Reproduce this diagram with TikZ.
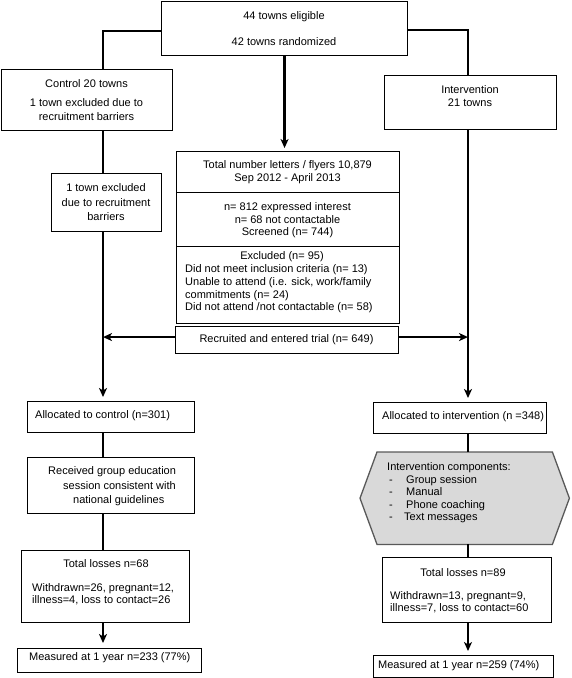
\documentclass[tikz,border=0pt]{standalone}
\usepackage{fontspec}
\setmainfont{Liberation Sans}
\usetikzlibrary{arrows.meta}
\begin{document}
\begin{tikzpicture}[x=1pt,y=-1pt,
  box/.style={draw=black, line width=1.1pt, inner sep=0pt, anchor=north west},
  area/.style={inner sep=0pt, anchor=north west},
  txt/.style={inner sep=0pt, font=\fontsize{11}{13}\selectfont, align=center},
  ltxt/.style={inner sep=0pt, font=\fontsize{11}{13}\selectfont, align=left, anchor=west},
  conn/.style={line width=2.4pt},
  arr/.style={conn, -{Stealth[length=9pt,width=8pt,inset=2.5pt]}},
  hexst/.style={draw=black!65, fill=black!15, line width=1.3pt, line join=miter}]
\useasboundingbox (0,0) rectangle (572,678);
% boxes
\node[box, minimum width=246pt, minimum height=54pt] (top) at (161,0.6) {};
\node[box, minimum width=171pt, minimum height=61pt] (ctrl) at (1,69) {};
\node[box, minimum width=172pt, minimum height=54pt] (int) at (384,75) {};
\node[box, minimum width=223pt, minimum height=41pt] (A) at (176,151) {};
\node[box, minimum width=223pt, minimum height=54pt] (B) at (176,192) {};
\node[box, minimum width=223pt, minimum height=77pt] (C) at (176,246) {};
\node[box, minimum width=223pt, minimum height=27pt] (D) at (175,326) {};
\node[box, minimum width=110pt, minimum height=58pt] (exc) at (51,173) {};
\node[box, minimum width=167pt, minimum height=31pt] (allocC) at (27,401) {};
\node[box, minimum width=167pt, minimum height=56pt] (rec) at (27,457) {};
\node[box, minimum width=168pt, minimum height=72pt] (tlC) at (21,550) {};
\node[box, minimum width=184pt, minimum height=24pt] (measC) at (17,648) {};
\node[box, minimum width=173pt, minimum height=31pt] (allocI) at (373,402) {};
\node[area, minimum width=175pt, minimum height=92pt] (hex) at (377,452) {};
\node[box, minimum width=169pt, minimum height=65pt] (tlI) at (382,557) {};
\node[box, minimum width=180pt, minimum height=22pt] (measI) at (373,655) {};
\draw[hexst] (hex.north west) -- (hex.north east) -- ([xshift=17pt]hex.east)
  -- (hex.south east) -- (hex.south west) -- ([xshift=-17pt]hex.west) -- cycle;
% texts
\node[txt] (t1) at (284,29) {44 towns eligible\\[13pt]42 towns randomized};
\node[txt, font=\fontsize{11}{14}\selectfont] (t2) at (86.5,100) {Control 20 towns\\[5pt]1 town excluded due to\\recruitment barriers};
\node[txt] (t3) at (470,96) {Intervention\\21 towns};
\node[txt] (t4) at (287.5,172) {Total number letters / flyers 10,879\\Sep 2012 - April 2013};
\node[txt, font=\fontsize{11}{12.5}\selectfont] (t5) at (287.5,220.5) {n= 812 expressed interest\\n= 68 not contactable\\Screened (n= 744)};
\node[txt] (t6) at (282,257) {Excluded (n= 95)};
\node[ltxt, font=\fontsize{11}{12.7}\selectfont] (t7) at (185,289) {Did not meet inclusion criteria (n= 13)\\Unable to attend (i.e. sick, work/family\\commitments (n= 24)\\Did not attend /not contactable (n= 58)};
\node[txt] (t8) at (286.5,340) {Recruited and entered trial (n= 649)};
\node[txt, font=\fontsize{11}{14.5}\selectfont] (t9) at (106,202.5) {1 town excluded\\due to recruitment\\barriers};
\node[ltxt] (t10) at (35,416) {Allocated to control (n=301)};
\node[ltxt, font=\fontsize{11}{14.5}\selectfont] (t11) at (48,486.5) {Received group education\\\hspace*{15pt}session consistent with\\\hspace*{25pt}national guidelines};
\node[txt] (t12) at (106,564) {Total losses n=68};
\node[ltxt, font=\fontsize{11}{12}\selectfont] (t13) at (32,594) {Withdrawn=26, pregnant=12,\\illness=4, loss to contact=26};
\node[ltxt] (t14) at (29,658) {Measured at 1 year n=233 (77\%)};
\node[ltxt] (t15) at (382,417) {Allocated to intervention (n =348)};
\node[ltxt, font=\fontsize{11}{12.5}\selectfont] (t16) at (387,493) {Intervention components:\\\hspace*{2pt}\makebox[17pt][l]{-}Group session\\\hspace*{2pt}\makebox[17pt][l]{-}Manual\\\hspace*{2pt}\makebox[17pt][l]{-}Phone coaching\\\hspace*{2pt}\makebox[15pt][l]{-}Text messages};
\node[txt] (t17) at (463,573) {Total losses n=89};
\node[ltxt, font=\fontsize{11}{12}\selectfont] (t18) at (390,602) {Withdrawn=13, pregnant=9,\\illness=7, loss to contact=60};
\node[ltxt] (t19) at (378,666) {Measured at 1 year n=259 (74\%)};
% connectors
\coordinate (lx) at (103,0);
\coordinate (rx) at (468,0);
\draw[conn] ([yshift=-3pt]top.west) -| (ctrl.north -| lx);
\draw[conn] ([yshift=-2pt]top.east) -| (int.north -| rx);
\draw[arr, shorten >=3pt] (top.south) -- (top.south |- A.north);
\draw[conn] (ctrl.south -| lx) -- (exc.north -| lx);
\draw[arr, shorten >=4pt] (exc.south -| lx) -- (allocC.north -| lx);
\draw[arr, shorten >=4pt] (int.south -| rx) -- (allocI.north -| rx);
\draw[arr] ([yshift=3pt]D.west) -- ([yshift=3pt]D.west -| lx);
\draw[arr] ([yshift=3pt]D.east) -- ([yshift=3pt]D.east -| rx);
\draw[conn] (allocC.south -| lx) -- (rec.north -| lx);
\draw[conn] (rec.south -| lx) -- (tlC.north -| lx);
\draw[arr, shorten >=5pt] (tlC.south -| lx) -- (measC.north -| lx);
\draw[conn] (allocI.south -| rx) -- (hex.north -| rx);
\draw[conn] (hex.south -| rx) -- (tlI.north -| rx);
\draw[arr, shorten >=4pt] (tlI.south -| rx) -- (measI.north -| rx);
\end{tikzpicture}
\end{document}
